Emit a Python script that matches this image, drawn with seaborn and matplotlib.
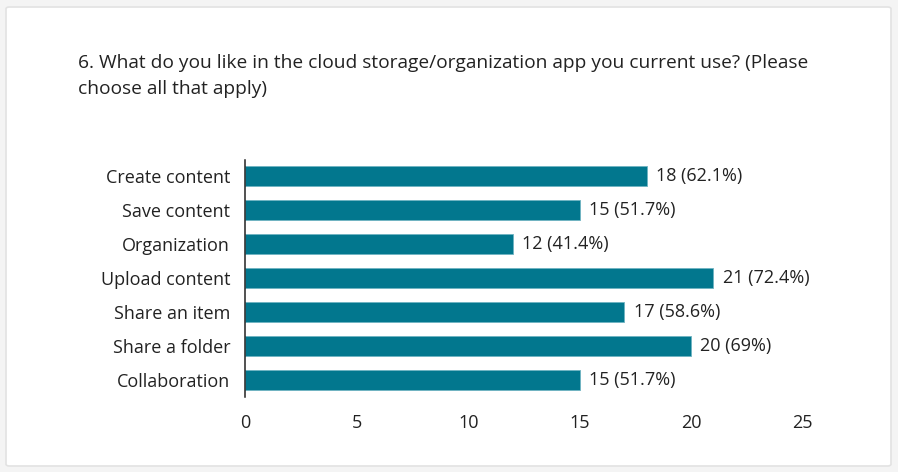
import seaborn as sns
import matplotlib.pyplot as plt
from matplotlib.patches import FancyBboxPatch
import pandas as pd

# survey answers
options = ['Create content', 'Save content', 'Organization', 'Upload content',
           'Share an item', 'Share a folder', 'Collaboration']
counts = [18, 15, 12, 21, 17, 20, 15]
percents = ['62.1%', '51.7%', '41.4%', '72.4%', '58.6%', '69%', '51.7%']
x_ticks = [0, 5, 10, 15, 20, 25]

title = ('6. What do you like in the cloud storage/organization app you current use? (Please\n'
         'choose all that apply)')

sns.set_theme(style='white')
plt.rcParams['font.family'] = ['Open Sans', 'DejaVu Sans']
plt.rcParams['text.color'] = '#222222'

df = pd.DataFrame({'option': options, 'count': counts})

fig = plt.figure(figsize=(8.98, 4.72), dpi=100)
fig.patch.set_facecolor('#f4f4f4')

# the white card behind everything
card = FancyBboxPatch((6 / 898, 6 / 472), 885 / 898, 459 / 472,
                      boxstyle='round,pad=0,rounding_size=0.004',
                      transform=fig.transFigure, facecolor='white',
                      edgecolor='#e2e2e2', linewidth=1.2, zorder=-5)
fig.patches.append(card)

fig.text(78 / 898, 1 - 54 / 472, title, ha='left', va='top', fontsize=13.8,
         linespacing=1.6, color='#222222')

ax = fig.add_axes([245.5 / 898, 1 - 397 / 472, 557 / 898, 237 / 472])
ax.set_facecolor('none')

sns.barplot(data=df, x='count', y='option', orient='h', color='#02778e',
            saturation=1, width=0.6, edgecolor='#6fb3c2', linewidth=0.6, ax=ax)

for i, (c, p) in enumerate(zip(counts, percents)):
    ax.text(c + 0.42, i, f'{c} ({p})', va='center', ha='left', fontsize=13,
            color='#222222')

ax.set_xlim(0, 25)
ax.set_ylim(6.5, -0.47)
ax.set_xticks(x_ticks)
ax.set_xticklabels([str(t) for t in x_ticks], fontsize=13)
ax.tick_params(axis='x', length=0, pad=12, colors='#222222')
ax.tick_params(axis='y', length=0, pad=11, labelsize=13, colors='#222222')
ax.set_yticks([6.3], minor=True)
ax.tick_params(axis='y', which='minor', length=9, width=1, color='#222222', direction='out')
ax.set_xlabel('')
ax.set_ylabel('')

for side in ['top', 'right', 'bottom']:
    ax.spines[side].set_visible(False)
ax.spines['left'].set_color('#222222')
ax.spines['left'].set_linewidth(1.1)

fig.savefig('out.png', dpi=100, facecolor=fig.get_facecolor())
